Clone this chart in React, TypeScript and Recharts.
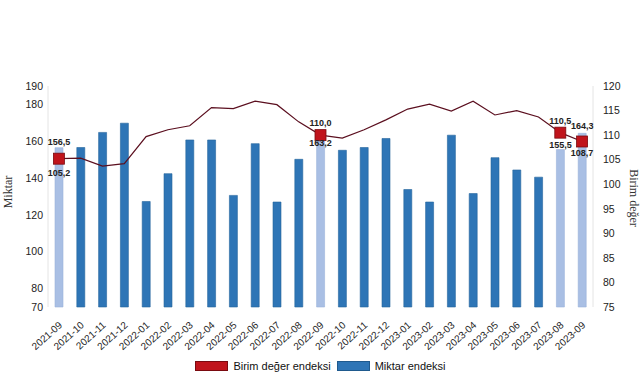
import React from "react";
import {
  ComposedChart,
  Bar,
  Line,
  XAxis,
  YAxis,
  Cell,
  LabelList,
  Legend,
} from "recharts";

const months = [
  "2021-09", "2021-10", "2021-11", "2021-12",
  "2022-01", "2022-02", "2022-03", "2022-04", "2022-05", "2022-06",
  "2022-07", "2022-08", "2022-09", "2022-10", "2022-11", "2022-12",
  "2023-01", "2023-02", "2023-03", "2023-04", "2023-05", "2023-06",
  "2023-07", "2023-08", "2023-09",
];

// Miktar endeksi (left axis)
const miktar = [
  156.5, 156.6, 164.8, 169.8, 127.3, 142.4, 160.7, 160.7, 130.6, 158.7,
  127.0, 150.2, 163.2, 155.1, 156.6, 161.5, 133.8, 127.0, 163.3, 131.6,
  151.1, 144.4, 140.5, 155.5, 164.3,
];

// Birim değer endeksi (right axis)
const birimDeger = [
  105.2, 105.3, 103.7, 104.2, 109.7, 111.1, 111.9, 115.6, 115.4, 116.9,
  116.2, 112.7, 110.0, 109.4, 111.1, 113.1, 115.3, 116.3, 114.9, 116.9,
  114.1, 115.0, 113.7, 110.5, 108.7,
];

const highlighted = ["2021-09", "2022-09", "2023-08", "2023-09"];

const leftTicks = [70, 80, 100, 120, 140, 160, 180, 190];
const rightTicks = [75, 80, 85, 90, 95, 100, 105, 110, 115, 120];

const data = months.map((m, i) => ({
  month: m,
  miktar: miktar[i],
  birim: birimDeger[i],
}));

// label offsets (px from bar top / marker centre), per highlighted month
const barLabelDy: Record<string, number> = {
  "2021-09": -3,
  "2022-09": 11,
  "2023-08": -2,
  "2023-09": -4,
};
const lineLabelDy: Record<string, number> = {
  "2021-09": 17,
  "2022-09": -9,
  "2023-08": -9,
  "2023-09": 15,
};

const RED = "#c0141c";
const BLUE = "#2e75b6";
const LIGHT = "#a9bfe4";
const fmt = (v: number) => v.toFixed(1).replace(".", ",");

const XTick = (props: any) => {
  const { x, y, payload } = props;
  const tx = x + 4;
  const ty = y + 11;
  return (
    <text
      x={tx}
      y={ty}
      transform={`rotate(-42 ${tx} ${ty})`}
      textAnchor="end"
      fontSize={10}
      fill="#222"
    >
      {payload.value}
    </text>
  );
};

const BarLabel = (props: any) => {
  const { x, y, width, index } = props;
  const m = months[index];
  if (!highlighted.includes(m)) return null;
  return (
    <text
      x={x + width / 2}
      y={y + barLabelDy[m]}
      textAnchor="middle"
      fontSize={9}
      fontWeight="bold"
      fill="#222"
    >
      {fmt(miktar[index])}
    </text>
  );
};

const LineLabel = (props: any) => {
  const { x, y, index } = props;
  const m = months[index];
  if (!highlighted.includes(m)) return null;
  return (
    <text
      x={x}
      y={y + lineLabelDy[m]}
      textAnchor="middle"
      fontSize={9}
      fontWeight="bold"
      fill="#222"
    >
      {fmt(birimDeger[index])}
    </text>
  );
};

const SquareDot = (props: any) => {
  const { cx, cy, index } = props;
  if (!highlighted.includes(months[index])) return <g key={index} />;
  return (
    <rect
      key={index}
      x={cx - 5.5}
      y={cy - 5.5}
      width={11}
      height={11}
      fill={RED}
      stroke="#7a0a10"
      strokeWidth={0.8}
    />
  );
};

const LegendBox = () => (
  <div
    style={{
      display: "flex",
      justifyContent: "center",
      alignItems: "center",
      height: 20,
      fontSize: 11,
      color: "#111",
      fontFamily: "Liberation Sans, Arial, sans-serif",
    }}
  >
    <span
      style={{
        width: 33,
        height: 10,
        background: RED,
        border: "1px solid #7a0a10",
        boxSizing: "border-box",
        marginRight: 5,
      }}
    />
    <span style={{ marginRight: 6 }}>Birim değer endeksi</span>
    <span
      style={{
        width: 33,
        height: 10,
        background: BLUE,
        border: "1px solid #1f5a8e",
        boxSizing: "border-box",
        marginRight: 5,
      }}
    />
    <span>Miktar endeksi</span>
  </div>
);

export default function App() {
  return (
    <div style={{ position: "absolute", left: 0, top: 0, background: "#fff" }}>
      <ComposedChart
        width={641}
        height={380}
        data={data}
        margin={{ top: 86, right: 0, bottom: 4, left: 0 }}
        style={{ fontFamily: "Liberation Sans, Arial, sans-serif" }}
      >
        <XAxis
          dataKey="month"
          axisLine={false}
          tickLine={false}
          interval={0}
          height={49}
          tick={<XTick />}
        />
        <YAxis
          yAxisId="left"
          width={48}
          domain={[70, 190]}
          ticks={leftTicks}
          interval={0}
          axisLine={{ stroke: "#e4e4e4" }}
          tickLine={false}
          tickSize={0}
          tickMargin={5}
          tick={{ fontSize: 10.5, fill: "#222" }}
          label={() => (
            <text
              x={12}
              y={192}
              transform="rotate(-90 12 192)"
              textAnchor="middle"
              fontSize={12}
              fontFamily="Liberation Serif, serif"
              fill="#333"
            >
              Miktar
            </text>
          )}
        />
        <YAxis
          yAxisId="right"
          orientation="right"
          width={48}
          domain={[75, 120]}
          ticks={rightTicks}
          interval={0}
          axisLine={{ stroke: "#e4e4e4" }}
          tickLine={false}
          tickSize={0}
          tickMargin={10}
          tick={{ fontSize: 10.5, fill: "#222" }}
          label={() => (
            <text
              x={630}
              y={198}
              transform="rotate(90 630 198)"
              textAnchor="middle"
              fontSize={12}
              fontFamily="Liberation Serif, serif"
              fill="#333"
            >
              Birim değer
            </text>
          )}
        />
        <Legend verticalAlign="bottom" content={<LegendBox />} />
        <Bar
          yAxisId="left"
          dataKey="miktar"
          barSize={8}
          isAnimationActive={false}
        >
          {data.map((d) => (
            <Cell
              key={d.month}
              fill={highlighted.includes(d.month) ? LIGHT : BLUE}
              stroke={highlighted.includes(d.month) ? "#9ab2da" : "#25649c"}
              strokeWidth={0.6}
            />
          ))}
          <LabelList dataKey="miktar" content={<BarLabel />} />
        </Bar>
        <Line
          yAxisId="right"
          dataKey="birim"
          type="linear"
          stroke="#5b0f1f"
          strokeWidth={1.2}
          dot={<SquareDot />}
          activeDot={false}
          isAnimationActive={false}
        >
          <LabelList dataKey="birim" content={<LineLabel />} />
        </Line>
      </ComposedChart>
    </div>
  );
}
